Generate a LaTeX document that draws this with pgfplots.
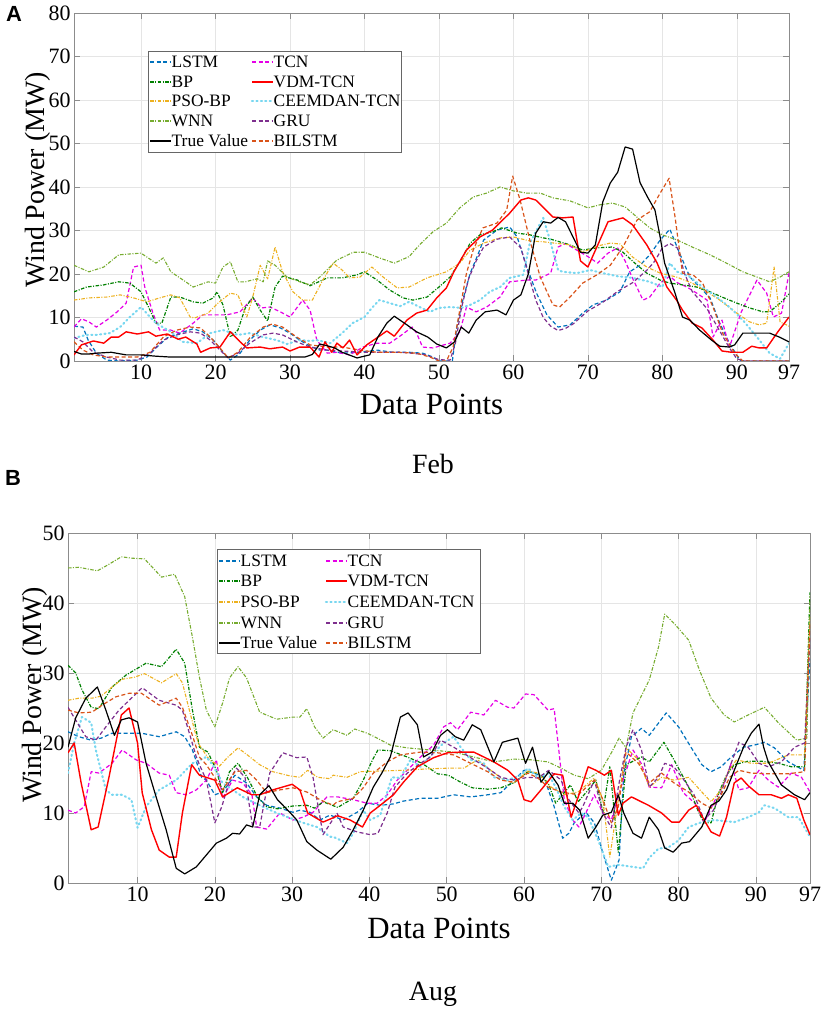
\documentclass[border=0pt]{standalone}
\usepackage{fontspec}
\setmainfont{Liberation Serif}
\newfontfamily\arialfont{Liberation Sans}
\usepackage{pgfplots}
\pgfplotsset{compat=1.18}
\definecolor{cLSTM}{RGB}{0,114,189}
\definecolor{cBP}{RGB}{0,128,0}
\definecolor{cPSO}{RGB}{237,177,32}
\definecolor{cWNN}{RGB}{119,172,48}
\definecolor{cTCN}{RGB}{230,0,230}
\definecolor{cVDM}{RGB}{255,0,0}
\definecolor{cCEE}{RGB}{120,215,240}
\definecolor{cGRU}{RGB}{126,47,142}
\definecolor{cBIL}{RGB}{217,83,25}
\tikzset{
  sLSTM/.style={draw=cLSTM, line width=1.2bp, dash pattern=on 4bp off 2.5bp},
  sBP/.style={draw=cBP, line width=1.2bp, dash pattern=on 3.5bp off 1.5bp on 1bp off 1.5bp},
  sPSO/.style={draw=cPSO, line width=1.1bp, dash pattern=on 3.5bp off 1.5bp on 1bp off 1.5bp},
  sWNN/.style={draw=cWNN, line width=1.1bp, dash pattern=on 3.5bp off 1.5bp on 1bp off 1.5bp},
  sTRUE/.style={draw=black, line width=1.2bp, solid},
  sTCN/.style={draw=cTCN, line width=1.2bp, dash pattern=on 4bp off 2.5bp},
  sVDM/.style={draw=cVDM, line width=1.4bp, solid},
  sCEE/.style={draw=cCEE, line width=2.1bp, line cap=round, dash pattern=on 1.2bp off 3.2bp},
  sGRU/.style={draw=cGRU, line width=1.2bp, dash pattern=on 4bp off 2.5bp},
  sBIL/.style={draw=cBIL, line width=1.2bp, dash pattern=on 4bp off 2.5bp},
}
\pgfplotsset{
  myaxis/.style={
    scale only axis, xmin=1, xmax=97, ymin=0,
    xtick={10,20,30,40,50,60,70,80,90,97},
    tick align=inside, tick pos=both, major tick length=6bp,
    axis line style={draw=black!45, line width=0.8bp},
    every tick/.style={draw=black!45, line width=0.6bp},
    grid=major, major grid style={draw=black!10, line width=0.5bp},
    tick label style={font=\fontsize{22}{24}\selectfont},
    /pgf/number format/assume math mode=true,
    xlabel style={font=\fontsize{31}{33}\selectfont},
    ylabel style={font=\fontsize{28}{30}\selectfont},
    xlabel={Data Points}, ylabel={Wind Power (MW)},
    no markers, every axis plot/.append style={line join=round},
  }
}
\newcommand\legitem[4]{%
  \draw[#1] (#2,#3) -- ++(21,0);
  \node[anchor=west, inner sep=0.5bp, font=\fontsize{17.5}{19}\selectfont] at (#2+21,#3) {#4};}
\begin{document}
\begin{tikzpicture}[x=1bp,y=1bp]
\path[use as bounding box] (0,0) rectangle (823,1010);
\node[font=\arialfont\bfseries\fontsize{22}{24}\selectfont] at (14,996) {A};
\node[font=\arialfont\bfseries\fontsize{22}{24}\selectfont] at (13,532) {B};
\node[font=\fontsize{28}{30}\selectfont] at (433,546) {Feb};
\node[font=\fontsize{28}{30}\selectfont] at (433,16) {Aug};
%%%%%%%%%%%%%%%% Panel A
\begin{axis}[myaxis, at={(74bp,649bp)}, anchor=south west,
  width=715bp, height=348bp, ymax=80, ytick={0,10,...,80},
  xlabel style={at={(axis description cs:0.5,-0.124)}, anchor=center},
  ylabel style={at={(axis description cs:-0.05,0.52)}, anchor=center}]
\addplot[sLSTM] coordinates {(1,8)(2.2,7.8)(2.9,4.8)(4,1.8)(5.4,0.2)(7,0)(9.5,0.2)(10.8,0.9)(12,3)(13.5,5.3)(15.2,6.4)(17,7.4)(18.3,6.7)(19.7,4.8)(21,2)(22,0.2)(23.3,1.8)(24.6,4.8)(26,7.1)(27.3,8.3)(28.7,7.6)(30,6.4)(31.3,4.8)(32.7,3.4)(34,2.5)(35,2.5)(37,1.8)(39.4,2)(41.7,2.5)(43.8,2)(46,2)(47.8,1.8)(49.2,0.9)(50,0)(51.8,0)(52.4,7.8)(53.2,14)(54.2,20.2)(55.1,23.9)(56,27.8)(57.8,30.1)(59.5,30.8)(60.5,28.5)(61.8,21.6)(63.1,15.6)(64.5,10.6)(66,7.8)(67.6,8.3)(69.3,11)(70.7,12.9)(72.5,14)(74.3,15.9)(75.6,20.5)(77,22)(78.3,24.4)(79.7,27.8)(81,30.3)(82.3,24.8)(83.7,19.3)(85,17)(86.4,14.5)(87.7,8.7)(89,4.1)(90.4,0.2)(91,0)(97,0)};
\addplot[sTCN] coordinates {(1,7.8)(2,9.7)(3,9)(4,7.8)(5.4,9.4)(6.8,11.3)(8,13.3)(9,21.6)(10,22)(10.5,17)(11.6,11)(12.5,7.1)(14,7.1)(15.2,6.4)(17,8.7)(18.3,10.6)(20,10.6)(21.5,10.6)(23.3,11.3)(25,14.5)(26.2,12.2)(27.3,12.4)(28.7,11.3)(30,10.1)(31.7,14)(32.7,11.7)(33.6,4.8)(35,1.8)(36.3,2)(38,1.4)(39.8,3.2)(41.7,4.1)(43.4,4.1)(45,6)(46.4,7.8)(47,6.4)(47.8,3.2)(49.2,3)(51.5,4.1)(52.8,6.7)(53.7,12.4)(55,11.3)(56.4,12.4)(58.2,14.7)(59.5,18.2)(61.8,18.6)(63,18.6)(65,20.2)(66,26.2)(67,27)(69,25)(70,24)(71.3,22.5)(72.7,24.8)(74,26)(75,23)(76,19)(77.4,14)(78.3,14.7)(79.7,17.9)(81,19.5)(82,18)(83.3,17)(84.6,15.6)(86,14)(86.8,5.5)(88,9.4)(89,3.2)(90.6,11.3)(92.7,18.6)(94,15.6)(94.9,10.1)(96,11)(97,20.2)};
\addplot[sBP] coordinates {(1,15.9)(2.7,17)(5,17.5)(7,18.2)(8.5,17.9)(10,15.9)(11.2,11.7)(12,8.7)(12.8,8.7)(14,14.7)(15.2,14.7)(17,13.6)(18.3,13.3)(19.7,14.5)(20.2,15.9)(21,12.9)(22,5.5)(23,7.1)(24,12.2)(25,14.7)(26,11.7)(27,9.2)(28,17)(29,19.5)(31,18.6)(32.7,17.3)(35,19.1)(37,19.1)(39,19.8)(40,20.5)(41.7,18.6)(43.4,16.3)(45.2,14.5)(46.5,14)(48.4,14.7)(50,17)(51.5,19.3)(52.8,22.8)(54.2,27.1)(55.5,29)(57.2,29.7)(58.4,30.6)(60.5,29.4)(62.2,29)(64,28.3)(65,28)(67.2,26.9)(69.3,25.5)(71.2,26)(73.3,26.2)(74.7,25)(76.3,22.5)(77.9,20.2)(79.7,18.6)(81,17.9)(82.7,17.5)(84.6,17)(86.4,15.9)(88,14.7)(90,13.3)(91.7,12.2)(93.5,11.3)(94.4,11.3)(95.8,13.3)(97,15.4)};
\addplot[sPSO] coordinates {(1,14)(3,14.5)(5.4,14.7)(7.2,15.2)(9,14.5)(10.8,13.6)(12.5,14.5)(14,15.2)(15.2,14.5)(16.6,10.1)(17.2,9.9)(19,11)(20.2,13.1)(22,15.6)(23,15.2)(24.2,10.1)(25,14.7)(26,22)(27,18.9)(28,26.2)(29,20.5)(30.4,15.9)(31.7,14)(33,14)(34.4,18.6)(35.8,22.5)(37,20.9)(38,19.1)(39.4,19.3)(41,21.6)(42.5,19.3)(44.4,16.8)(46,17)(48.4,19.1)(51,20.5)(52.8,22.5)(54.2,25.5)(56,27.1)(58.2,28.3)(60,28.5)(62.2,27.6)(64,27.4)(66,27)(67.6,26.7)(69.3,25)(71.2,26.4)(73,27.1)(74.3,26.9)(76,23.9)(77.9,21.6)(79.7,20.2)(81.9,19.3)(84,17.9)(86,15.9)(87.7,14)(90,11)(91.7,9)(93,8.3)(94,8.7)(95,21.6)(95.8,9)(97,8)};
\addplot[sCEE] coordinates {(1,5.3)(2.7,6)(4,6)(5.8,6.4)(7.2,7.8)(8.5,10.1)(10,12.4)(11.2,10.1)(12,8.7)(14,6.7)(15.6,4.4)(17.5,4.1)(19.3,6.4)(21,7.1)(23,6)(24.6,6.4)(26.4,5.5)(28.2,4.8)(29.6,3.9)(31.3,4.8)(32.7,4.6)(33.6,4.8)(35.4,4.1)(37,6.4)(38.4,8.7)(40,10.1)(41,12.2)(42,14)(43.4,13.3)(44.8,12.6)(46,13.6)(47.4,12.4)(48.8,11.3)(50,12.2)(51.5,12.4)(53,12.2)(54.2,12.9)(55.5,14)(56.8,15.9)(58.2,17)(59.5,19.1)(61.3,19.8)(62.2,27.1)(64,32.9)(64.9,27.8)(66,20.9)(66.6,20.5)(68.5,20.2)(70.3,20.9)(72,20.2)(73.9,19.5)(76,19.1)(78.3,18.2)(80,17)(81,22.5)(82,20.5)(83.7,19.3)(85.4,17)(87.3,14.7)(89,12.4)(90.8,9.4)(92.7,5.5)(94.4,1.8)(95.8,0.5)(97,4.1)};
\addplot[sWNN] coordinates {(1,22)(3,20.5)(5,21.6)(7,24.4)(10,24.8)(12,22.5)(13,23.7)(14,20.5)(16,18.2)(17,17)(19,18.2)(20,17.9)(21,21.6)(22,22.8)(23,18.2)(24,18.2)(25.6,18.9)(26.4,18.2)(27,23)(28,22)(29.6,19.3)(31.3,18.2)(32.7,17.5)(34,19.3)(36.3,23.2)(38.5,25)(40,25)(42,23.7)(44,22.5)(46,24)(47.4,26.7)(49.2,29.7)(51,31.7)(52.8,35.2)(54.6,37.7)(56.4,38.6)(58.2,40)(60,39.1)(61.8,38.6)(63.6,38.6)(65.3,37.5)(67.6,36.8)(70,35.2)(71.6,35.9)(73.3,36.3)(75,35.4)(76.7,32.9)(78.3,30.6)(80,29)(82,27.8)(84,26.2)(86.4,24.4)(88.6,22.5)(90.8,20.5)(93,19.1)(94.4,18.2)(95.8,19.3)(97,20.5)};
\addplot[sGRU] coordinates {(1,5.5)(2.2,4.4)(3.6,2)(5.4,0.9)(7.2,0.2)(9.5,0.2)(11.2,1.8)(13,4.8)(14.8,6)(16.6,6.7)(18,6.4)(19.3,4.8)(20.6,2.5)(21.7,0.7)(23,1.8)(24.6,4.1)(26.4,6)(27.7,6.4)(29,6)(30.9,4.4)(32.7,3.2)(35,2.5)(40,2)(45,2)(48,1.5)(50,0.3)(51.5,0.2)(52.2,4)(53,12)(54,19)(55,23)(56,26.2)(57.8,28)(59.5,28.5)(61,26)(62,20)(63,14)(64,10)(65,8)(66,7)(67,7.5)(68,8.5)(70,11.5)(72,13.5)(74,16)(76,18)(78,21)(79,23)(80,26)(81,27)(82,26)(83,20)(84,16)(85,14)(86,12)(87,9)(88,6)(89,3)(90,0.5)(91,0)(97,0)};
\addplot[sBIL] coordinates {(1,4.4)(2.2,2.5)(3.6,1.4)(5.4,0.9)(9.5,0.9)(11.2,2)(13,5.5)(14.8,7.1)(16.6,7.8)(18,7.6)(19.3,5.5)(20.6,3)(21.7,0.7)(23,2)(24.6,5.3)(26.4,7.8)(27.6,8.5)(29,7.8)(30.9,5.5)(32.7,3.7)(35,3.2)(37,3.2)(39.4,2.5)(41.7,2)(44.4,2)(47,1.8)(48.8,0.9)(50,0)(51,0)(51.9,3.2)(52.8,11.7)(53.7,20.2)(54.6,25.5)(55.9,30.6)(57.8,31.7)(59.1,34.7)(59.9,42.5)(60.9,37)(62.2,27.8)(63.6,19.3)(65.3,12.9)(66.2,12.4)(67.6,14.7)(69.3,17.9)(71.2,19.8)(73,22)(74.7,26.2)(76.6,32.4)(78.3,34.3)(79.7,38.6)(80.9,42)(81.7,33.1)(82.7,20.2)(84.1,19.8)(85.4,17.9)(86.8,12.4)(88.1,6.4)(89.7,1.8)(90.8,0)(97,0)};
\addplot[sVDM] coordinates {(1,1.4)(2,3.7)(3.6,4.6)(5,4.1)(6,5.5)(7,5.5)(8,6.7)(9.5,6.2)(11,6.7)(12,5.7)(13.5,6.2)(15,5)(16,5.5)(17.5,3.9)(18,2)(19.3,3)(20.6,3.2)(22,6.7)(23.3,4.4)(24.2,3)(26,3.2)(27.3,2.8)(29,3.2)(30,2.3)(31.3,3.2)(32.7,3.2)(33.9,0.9)(34.7,4.4)(35.6,2)(36.3,4.1)(37.1,3)(38,4.8)(39,1.4)(40.3,3.7)(42,5.7)(43,6.9)(44,5.7)(45.7,9.4)(47,11)(48.4,11.7)(49.7,14.5)(51,16.8)(52,20.5)(53.7,25.5)(55.5,28.5)(57.2,30.1)(59.5,34)(61,37)(62,37.5)(63,37)(64.2,35)(65.3,33.1)(66.6,32.9)(68,33.1)(69,23)(70,21.6)(71.2,26.2)(72.7,32)(74.7,32.9)(76,31.3)(77.9,26.7)(79.3,22.5)(80.6,17)(81.9,14)(82.7,11.7)(84,8.7)(85.3,7.6)(86.8,4.8)(88,2.3)(89.3,2)(90.8,2)(92,3.4)(93,3)(94,3)(95.5,6.7)(97,10.1)};
\addplot[sTRUE] coordinates {(1,2.2)(2,1.6)(3,1.6)(4,1.8)(6,2)(8,1.4)(10,1.4)(12,1.1)(14,0.9)(20,0.9)(26,0.9)(32,0.9)(33,1.5)(34,3.9)(35,3.5)(36,3)(37,2)(39,0.7)(40.7,1.4)(41.8,5.5)(43,8.7)(44,10.3)(45.7,8.3)(47,6.7)(48.5,5.5)(49.7,3.9)(51,3)(52.1,4.4)(53,7.8)(54,6.4)(55,9.4)(56.2,11.3)(57.8,11.7)(59,10.6)(60,14)(61,15.2)(62,20)(63,29.4)(64,32)(65,31.7)(66,33)(67,32)(68,28.5)(69,25)(70,24.8)(71,26.7)(72,36.6)(73,40.9)(74,43.4)(75,49.2)(76,48.7)(77,41)(78,37.7)(79,34.7)(79.7,28.5)(80.3,22.5)(81.7,15.6)(82.7,10.1)(83.7,9.4)(85,7.1)(86.6,4.8)(87.7,3.4)(89,3.2)(89.7,3.7)(90.8,6.4)(92,6.4)(94.4,6.4)(95.7,5.5)(97,4.4)};
\end{axis}
%%%%%%%%%%%%%%%% Panel B
\begin{axis}[myaxis, at={(68bp,127bp)}, anchor=south west,
  width=742bp, height=350bp, ymax=50, ytick={0,10,...,50},
  xlabel style={at={(axis description cs:0.5,-0.129)}, anchor=center},
  ylabel style={at={(axis description cs:-0.045,0.537)}, anchor=center}]
\addplot[sLSTM] coordinates {(1,21.6)(2.4,20.9)(4,20.4)(5.3,20.7)(6.7,21.4)(8.5,21.4)(10.5,21.4)(12.8,20.9)(15,21.6)(16.1,20.9)(17.1,19)(18.3,15.1)(18.9,14.7)(20,12.6)(21,13)(22.6,15.4)(24.1,14.3)(25.4,12.3)(26.7,11.1)(28.4,10.7)(30.1,10.1)(31,10.4)(32.3,10.1)(33.6,9)(34.9,9.7)(36.6,9)(38.4,10.1)(39.8,11.4)(41.4,11.1)(43.1,11.3)(44.4,11.7)(46.6,12.1)(48.8,12.1)(50.9,12.6)(53.1,12.3)(55.3,12.6)(57,12.9)(58.7,14.7)(60,16.1)(61.3,15.7)(62.6,15.1)(63.9,10.9)(65,6.4)(65.8,7.1)(66.5,8.6)(68,10.1)(69.1,8.6)(70.2,4.3)(71.3,0.4)(72.3,3.3)(72.9,15.7)(73.9,20.9)(75.2,22.1)(76.2,21.1)(78.4,24.3)(80,22.3)(81.6,19.4)(83,16.9)(84.2,15.9)(85.5,16.6)(86.8,18)(88.4,19.4)(89.8,19.7)(91.1,20.1)(92.4,19.3)(94.2,17.3)(96.2,16.1)(97,32)};
\addplot[sTCN] coordinates {(1,10.4)(2,10)(3.1,10.9)(4,15.9)(5,15.7)(6.7,17.1)(8,19)(9.8,17.6)(11.1,17.1)(12.8,15.7)(14.1,15.4)(15,12.9)(16.3,12.6)(17.6,13.3)(18.9,14.7)(20.2,17.6)(21,12.1)(22.3,14.7)(23.6,14.3)(24.8,12.6)(25.4,8)(26.7,7.7)(28.4,10)(30.1,9)(31.4,9.4)(32.7,10.1)(34.5,12.3)(35.9,12.3)(37.9,11.9)(39.7,11.4)(41,11.4)(42.3,12.6)(43.6,14.7)(44.9,16.1)(46.6,18)(48.3,19.7)(49.6,22.3)(50.5,22.9)(51.4,21.9)(53.1,24.4)(54.8,24)(56.3,26.1)(57.9,25.1)(58.7,25)(60.2,27)(61.3,26.9)(63.1,24.7)(63.9,24.9)(64.5,19)(65.2,11.9)(66.3,9)(67.1,8)(68,10)(69.1,12.6)(70.2,10)(71.3,9)(72.9,15)(74.1,19)(75.2,17)(76.2,13.7)(77.8,13.6)(79.1,16.9)(80.6,12.9)(82.1,11.4)(83.3,8.6)(84.6,11.6)(85.9,14.3)(86.8,17.1)(87.8,13.3)(89,13.6)(90.4,16.1)(91.6,14.7)(92.9,13.7)(94.6,15.7)(95.9,15.1)(97,13)};
\addplot[sBP] coordinates {(1,31.1)(2,30)(2.8,27.6)(4,25.1)(5,24.9)(6.7,28)(8.5,29.7)(11.1,31.4)(13.1,30.9)(15,33.4)(16.1,31.4)(17.1,24.7)(18,19.4)(19.1,18.7)(20.2,16.1)(21,12.9)(21.9,15.9)(23,17.1)(24.2,15.1)(25.5,12.3)(26.7,10.9)(28.1,10.6)(30.1,11)(31.9,11.1)(32.9,10.7)(34,11.6)(35.9,10.8)(37.9,12.1)(39.2,14.7)(40.4,17.6)(41.1,19)(42.7,18.9)(44.9,18)(46.8,17.1)(48.8,15.6)(50.2,15.4)(51.8,14.4)(53.3,13.6)(55.3,13.4)(57,13.6)(58.7,14.3)(60.5,15.9)(61.8,15.7)(63.1,14.3)(64.1,11.4)(65.2,12.9)(66,14)(67,11.6)(68.3,13.3)(69.3,14.7)(70.2,10.1)(71.1,16.6)(72.2,4.4)(73.2,16.9)(75.2,18)(76.2,17.3)(78.1,20.1)(79.4,17.6)(81.3,13.7)(82.6,10.1)(83.3,8.6)(84.2,8.6)(85.2,12.9)(86.2,15.4)(87.2,16.9)(89,17.4)(90.7,17.4)(92.9,17.1)(94.6,16.6)(96.3,16.6)(97,41.5)};
\addplot[sPSO] coordinates {(1,26.1)(2.4,26.4)(4.1,26.4)(5.3,26.7)(6.7,28)(8,29.1)(9.6,29.4)(10.9,29.9)(13.1,28.6)(15,29.9)(15.8,28.6)(16.7,24.7)(17.6,20.9)(18,19.7)(19.3,17.6)(20.6,16.7)(21.6,17.9)(23,19.3)(24.2,18.3)(25.8,16.9)(27.5,15.9)(29.7,15.3)(31,15.1)(32,16.1)(33.3,15.1)(34.9,14.9)(35.3,15.4)(37.1,15.1)(38.8,15.9)(41.4,16)(44.4,16.1)(47.5,16.3)(50.1,16.4)(52.2,16.4)(54,17.6)(55.7,16.1)(57.4,14.7)(58.7,14.3)(60.5,16)(61.8,15.7)(63.5,13.7)(65.2,12.6)(67,13)(69.1,15)(70.2,11.9)(71.1,3.7)(72.2,11.9)(73.2,19.3)(74.8,17.6)(76.2,13.7)(77.8,15.1)(79.4,14.7)(81.3,15.1)(83,13)(84.2,11.6)(85.5,13.3)(86.5,16.1)(87.5,17.6)(89.4,17.1)(91.6,17.1)(94.2,18.3)(96.3,18.3)(97,38)};
\addplot[sCEE] coordinates {(1,15.7)(1.8,20)(2.8,23.7)(4,22.9)(4.6,19)(5.9,13.3)(6.7,12.6)(8,12.6)(9.2,11.9)(10,7.9)(11.1,10.9)(12.8,13.3)(15,14.7)(17.1,17.1)(18.9,18)(19.7,16.9)(21,14.3)(22.3,13.3)(23.9,12.1)(25.8,11.1)(28,10)(29.7,9.3)(31.4,8.6)(33.2,8)(34.9,6.6)(35.3,6.6)(37.1,5.7)(37.9,7.1)(39.2,10.4)(40.1,9)(41.4,9.7)(42.9,15.1)(44,15)(45.3,17.6)(46.6,16.6)(48.3,18.6)(49.6,20)(50.9,20.9)(51.8,19.4)(53.1,17.6)(54.8,17.1)(56.1,15.1)(57.9,14.7)(59.6,15.4)(60.5,16.4)(61.8,15.1)(63.1,15.7)(64.1,13.7)(65.2,10.9)(66.3,9)(67.4,10)(68.3,9.4)(69.6,6.1)(70.9,2.3)(72.2,2.6)(74.1,2.3)(75.4,2.1)(76.2,3.6)(77.4,4.9)(78.7,5.1)(80,6.1)(81.3,8)(83,8.7)(84.6,9)(87.2,8.7)(89,9.4)(90.4,10.1)(91.1,11.1)(92.4,10.7)(94.2,9.4)(95.5,9.4)(97,6.6)};
\addplot[sWNN] coordinates {(1,45)(2.4,45.1)(4.8,44.6)(6.1,45.4)(7.9,46.6)(9.3,46.4)(10.9,46.3)(13.1,43.7)(14.8,44.1)(16.1,40.9)(17.1,35.1)(18,29.4)(18.9,24.7)(20,22.3)(21,25.7)(21.9,29.3)(23,30.9)(24.1,29.3)(25.8,24.4)(28,23.4)(30.1,23.7)(31,23.7)(31.9,24.9)(32.9,22.3)(34,20.7)(35.3,21.9)(37.1,21.1)(38.1,22)(39.7,21.4)(41,20.7)(42.7,19.7)(44.9,19.3)(47.9,19)(50.9,18.7)(53.5,18)(56.1,17.3)(58.7,17.7)(60.9,17.6)(63.1,17.3)(64.8,16.4)(66.5,15.4)(68.3,14.9)(70,16.1)(71.3,18.6)(72.3,20.7)(73.2,19.3)(74.1,24.3)(76.2,29)(77.4,33.7)(78.2,38.4)(79.4,37.1)(81.3,34.7)(82.7,30.4)(84.2,26.4)(85.9,24)(87.2,23)(89,24)(91.1,25.1)(92.9,22.9)(95.3,20.4)(96.6,20.7)(97,41)};
\addplot[sGRU] coordinates {(1,25.1)(2.2,22.9)(3.3,20.9)(4.6,20.4)(5.9,22.3)(7.6,24.7)(9.2,26.4)(10.6,27.9)(12.8,26.1)(15,25.4)(15.8,24.7)(16.7,21.4)(17.6,18)(18,16.9)(18.9,14.7)(20,8.6)(20.9,10.9)(21.9,14.7)(22.8,16.4)(23.9,15.1)(24.9,8)(25.8,8)(27.1,15.7)(28.8,18.6)(30.6,17.9)(31.9,18)(32.7,15.1)(34,6.9)(35.8,10)(36.6,8)(38.4,7.3)(40.1,6.9)(41.1,7.1)(42.3,10)(43.3,13.7)(44.9,15.7)(46.6,17.1)(47.9,18)(49.2,20.4)(50.9,19.4)(53.1,17.9)(55.3,16.4)(57,15.1)(58.7,14.7)(60.5,15.1)(61.8,15)(63.2,16.1)(64.8,14.7)(65.8,11.9)(67.1,10)(67.6,10.9)(69.1,14.7)(70.2,10)(71.3,7.9)(72.3,14.3)(73.2,19.4)(74.1,21.9)(75.2,19)(76.2,13.7)(77.4,15.1)(78.2,17.1)(79.4,16.6)(80.7,14.7)(82,12.6)(83.3,9)(84.5,10.4)(85.5,12.9)(86.8,17.1)(87.8,20.1)(89,19.4)(90.4,17.1)(91.6,16.6)(93.3,17.3)(95,19.4)(96.3,20)(97,35)};
\addplot[sBIL] coordinates {(1,24.7)(2.4,24.3)(4.1,24.4)(5.4,25.4)(7.2,26.6)(8.9,27.1)(10.5,27.1)(12.8,25.4)(15,26.4)(15.8,25.1)(17,21.4)(18,18)(18.9,16.9)(20.2,14.7)(21,13.3)(22.6,15.9)(24.1,16.1)(25.4,14.7)(26.7,12.9)(28.4,13.3)(30.1,13.6)(31.9,13)(33.6,11.9)(35.3,11.1)(35.8,11.6)(37.9,12.1)(39.2,13.6)(40.5,15.7)(42.3,17.3)(44,18.3)(46.6,18.7)(48.8,18.6)(50.9,18.3)(53.1,17.1)(55.3,15.9)(57,14.7)(58.7,14.4)(60.5,15.7)(61.8,15)(63.1,13.7)(64.8,13)(67,12.6)(69.1,14.7)(70.2,11.9)(71.3,8.6)(72.2,10.9)(73.2,18.7)(74.8,17.1)(76.2,14.3)(77.8,15.7)(79.4,14.3)(81.3,13)(83,11.4)(84.2,10.7)(85.5,12.6)(86.6,15.1)(87.8,16.1)(89.4,15.7)(91.6,15.6)(94.2,15.6)(96.3,15.9)(97,37)};
\addplot[sVDM] coordinates {(1,18.6)(1.8,20)(2.7,14.3)(4,7.6)(4.9,8)(6.3,15.1)(7.9,24)(8.9,25)(10,20)(10.6,12.9)(11.8,7.6)(12.8,4.7)(14.1,3.7)(15,3.7)(15.8,10)(17,16.9)(18,15.4)(20,14.7)(21,12.3)(22.9,13.6)(24.8,12.6)(25.8,12.6)(27.5,13.3)(30,14.1)(31,13.3)(32,10)(34,8.7)(35.9,9.6)(37.5,9)(39.1,8)(40.1,10)(41.4,11.1)(43.1,12.6)(44.4,14.4)(46.2,16.6)(48.3,17.9)(50.1,18.6)(51.8,18.7)(53.5,18.7)(56.1,17.3)(57.9,16.1)(59.2,14.7)(60,11.9)(60.9,11.6)(62.2,13.3)(63.9,15.6)(65,15.4)(66.1,9.4)(67.2,12.9)(68.3,16.6)(69.3,16.1)(70.4,15.4)(71.3,16.1)(72.2,9.7)(72.8,11.4)(73.9,12.3)(76.1,11.1)(77.8,10)(79.1,8.7)(80.1,8.7)(81.3,10.4)(82.3,11.1)(83.3,9)(84.2,7.3)(85.3,6.7)(86.2,9.4)(87.2,14.3)(88.1,15)(89,13.9)(90.4,12.6)(92,12.6)(93.3,12.1)(94.2,12.6)(95.3,12.1)(96.2,9)(97,6.9)};
\addplot[sTRUE] coordinates {(1,19.4)(2,23.6)(3.3,26.4)(4.8,28)(5.9,24.7)(7,21.1)(7.9,23.3)(8.9,23.6)(10,23)(11.1,17.1)(12.4,12.3)(13.7,7.6)(15,2.1)(16.1,1.3)(17.6,2.3)(18.9,4)(20.2,5.7)(21.5,6.4)(22.3,7.1)(23.2,7)(24.1,8.3)(24.9,8)(25.8,12.6)(27,13.9)(28.1,11.9)(29.7,10.1)(30.6,9)(31.9,5.9)(33.2,4.7)(35,3.4)(36.6,5.1)(37.9,7.6)(39.2,10.4)(40.5,13.7)(41.6,15.7)(42.7,18)(44,23.7)(45,24.3)(46.2,22.6)(47,18)(48.1,18.7)(49.2,21.1)(50.1,21.9)(51.1,20.9)(52.2,20.4)(53.3,22.6)(54.4,21.9)(56.1,17.3)(57.2,20.1)(59.2,20.7)(60.2,17.1)(61.1,19.4)(62.2,14.4)(63.2,15.9)(64.4,14)(65.2,11.4)(66.3,11.4)(67.2,10.4)(68.3,6.4)(69.3,8)(70.2,9.7)(71.3,10.1)(72.2,12.6)(72.9,10)(74.1,7.1)(75.2,6.4)(76.2,9.4)(77.4,7.6)(78.2,5)(79.3,4.4)(80.4,5.7)(81.4,5.9)(83,8)(84.2,11.1)(85.2,11.7)(86.2,13.3)(87.2,16.1)(88.4,19.4)(89.4,21.4)(90.4,22.7)(91,19.4)(91.6,17.3)(93.3,14)(95,12.6)(96.3,11.9)(97,12.9)};
\end{axis}
%%%%%%%%%%%%%%%% Legend A
\draw[draw=black!60, fill=white, line width=0.6bp] (148,858) rectangle (401,959);
\legitem{sLSTM}{150}{948}{LSTM}
\legitem{sBP}{150}{928}{BP}
\legitem{sPSO}{150}{909}{PSO-BP}
\legitem{sWNN}{150}{889}{WNN}
\legitem{sTRUE}{150}{869}{True Value}
\legitem{sTCN}{252}{948}{TCN}
\legitem{sVDM}{252}{928}{VDM-TCN}
\legitem{sCEE}{252}{909}{CEEMDAN-TCN}
\legitem{sGRU}{252}{889}{GRU}
\legitem{sBIL}{252}{869}{BILSTM}
%%%%%%%%%%%%%%%% Legend B
\draw[draw=black!60, fill=white, line width=0.6bp] (217,357) rectangle (480,461);
\legitem{sLSTM}{219}{449}{LSTM}
\legitem{sBP}{219}{429}{BP}
\legitem{sPSO}{219}{408}{PSO-BP}
\legitem{sWNN}{219}{387}{WNN}
\legitem{sTRUE}{219}{367}{True Value}
\legitem{sTCN}{326}{449}{TCN}
\legitem{sVDM}{326}{429}{VDM-TCN}
\legitem{sCEE}{326}{408}{CEEMDAN-TCN}
\legitem{sGRU}{326}{387}{GRU}
\legitem{sBIL}{326}{367}{BILSTM}
\end{tikzpicture}
\end{document}
